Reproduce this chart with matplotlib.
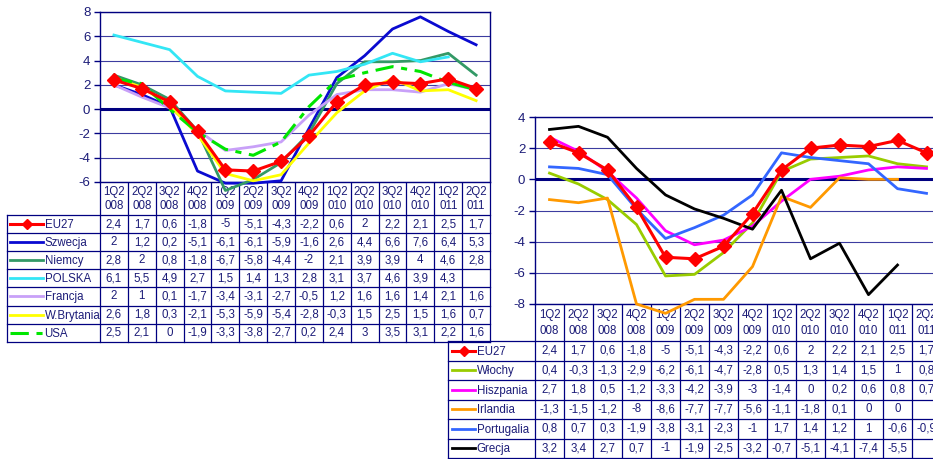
import numpy as np
import matplotlib.pyplot as plt

plt.rcParams['font.family'] = ['Liberation Sans', 'DejaVu Sans']
plt.rcParams['axes.unicode_minus'] = False

nan = np.nan

# quarters (header of both tables)
quarters = ['1Q2008', '2Q2008', '3Q2008', '4Q2008', '1Q2009', '2Q2009', '3Q2009',
            '4Q2009', '1Q2010', '2Q2010', '3Q2010', '4Q2010', '1Q2011', '2Q2011']

# left chart
eu27 = [2.4, 1.7, 0.6, -1.8, -5, -5.1, -4.3, -2.2, 0.6, 2, 2.2, 2.1, 2.5, 1.7]
szwecja = [2, 1.2, 0.2, -5.1, -6.1, -6.1, -5.9, -1.6, 2.6, 4.4, 6.6, 7.6, 6.4, 5.3]
niemcy = [2.8, 2, 0.8, -1.8, -6.7, -5.8, -4.4, -2, 2.1, 3.9, 3.9, 4, 4.6, 2.8]
polska = [6.1, 5.5, 4.9, 2.7, 1.5, 1.4, 1.3, 2.8, 3.1, 3.7, 4.6, 3.9, 4.3, nan]
francja = [2, 1, 0.1, -1.7, -3.4, -3.1, -2.7, -0.5, 1.2, 1.6, 1.6, 1.4, 2.1, 1.6]
wbrytania = [2.6, 1.8, 0.3, -2.1, -5.3, -5.9, -5.4, -2.8, -0.3, 1.5, 2.5, 1.5, 1.6, 0.7]
usa = [2.5, 2.1, 0, -1.9, -3.3, -3.8, -2.7, 0.2, 2.4, 3, 3.5, 3.1, 2.2, 1.6]

# right chart
wlochy = [0.4, -0.3, -1.3, -2.9, -6.2, -6.1, -4.7, -2.8, 0.5, 1.3, 1.4, 1.5, 1, 0.8]
hiszpania = [2.7, 1.8, 0.5, -1.2, -3.3, -4.2, -3.9, -3, -1.4, 0, 0.2, 0.6, 0.8, 0.7]
irlandia = [-1.3, -1.5, -1.2, -8, -8.6, -7.7, -7.7, -5.6, -1.1, -1.8, 0.1, 0, 0, nan]
portugalia = [0.8, 0.7, 0.3, -1.9, -3.8, -3.1, -2.3, -1, 1.7, 1.4, 1.2, 1, -0.6, -0.9]
grecja = [3.2, 3.4, 2.7, 0.7, -1, -1.9, -2.5, -3.2, -0.7, -5.1, -4.1, -7.4, -5.5, nan]

NAVY = '#000080'
GRID = '#3c3ca0'
TXT = '#1c1c78'

W, H = 933, 459
fig = plt.figure(figsize=(W / 100, H / 100), dpi=100)

# overlay in pixel coordinates for the data tables
ov = fig.add_axes([0, 0, 1, 1])
ov.set_xlim(0, W)
ov.set_ylim(H, 0)
ov.axis('off')


def fmt(v):
    if np.isnan(v):
        return ''
    return ('%g' % v).replace('.', ',')


def panel(ytop, ybot, x0, colw, lab_x, hdr_bot, row_h, ylim, series, key, fs=8.3):
    n = len(quarters)
    x1 = x0 + n * colw
    ax = fig.add_axes([x0 / W, 1 - ybot / H, (x1 - x0) / W, (ybot - ytop) / H])
    x = np.arange(n)
    for name, vals, kw in series:
        ax.plot(x, vals, clip_on=False, zorder=3 + (name == 'EU27'), **kw)
    ax.set_xlim(-0.5, n - 0.5)
    ax.set_ylim(*ylim)
    ax.set_yticks(np.arange(ylim[0], ylim[1] + 1, 2))
    ax.set_xticks([])
    for y in np.arange(ylim[0], ylim[1] + 1, 2):
        ax.axhline(y, color=GRID, lw=0.8, zorder=1)
    ax.axhline(0, color=NAVY, lw=2.2, zorder=2)
    for s in ax.spines.values():
        s.set_color(NAVY)
        s.set_linewidth(1.0)
    ax.tick_params(axis='y', colors=NAVY, labelcolor=TXT, labelsize=9.5,
                   length=4, width=1, pad=3)

    # table
    tb_bot = hdr_bot + row_h * len(series)
    for i in range(n + 1):
        xx = x0 + i * colw
        ov.plot([xx, xx], [ybot, tb_bot], color=NAVY, lw=0.9)
    ov.plot([lab_x, lab_x], [hdr_bot, tb_bot], color=NAVY, lw=0.9)
    for r in range(len(series) + 1):
        yy = hdr_bot + r * row_h
        ov.plot([lab_x, x1], [yy, yy], color=NAVY, lw=0.9)
    for i, q in enumerate(quarters):
        cx = x0 + (i + 0.5) * colw
        ov.text(cx, ybot + (hdr_bot - ybot) * 0.3, q[:3], ha='center', va='center',
                fontsize=fs, color=TXT)
        ov.text(cx, ybot + (hdr_bot - ybot) * 0.72, q[3:], ha='center', va='center',
                fontsize=fs, color=TXT)
    for r, (name, vals, kw) in enumerate(series):
        cy = hdr_bot + (r + 0.5) * row_h
        k0, k1 = lab_x + key[0], lab_x + key[1]
        kk = dict(kw)
        mk = kk.pop('marker', None)
        kk.pop('markersize', None)
        ov.plot([k0, k1], [cy, cy], **kk)
        if mk:
            ov.plot([(k0 + k1) / 2], [cy], marker=mk, markersize=5,
                    color=kw['color'], ls='none')
        ov.text(k1 + 1.5, cy + 1, name, ha='left', va='center', fontsize=fs, color=TXT)
        for i, v in enumerate(vals):
            ov.text(x0 + (i + 0.5) * colw, cy, fmt(v), ha='center', va='center',
                    fontsize=fs, color=TXT)
    return ax


eu_kw = dict(color='#ff0000', lw=2.2, marker='D', markersize=7)

left_series = [
    ('EU27', eu27, eu_kw),
    ('Szwecja', szwecja, dict(color='#0a0ad0', lw=2.0)),
    ('Niemcy', niemcy, dict(color='#339966', lw=2.0)),
    ('POLSKA', polska, dict(color='#33e6f5', lw=2.0)),
    ('Francja', francja, dict(color='#c8a0f8', lw=2.0)),
    ('W.Brytania', wbrytania, dict(color='#ffff00', lw=2.0)),
    ('USA', usa, dict(color='#00e600', lw=2.2, dashes=(6, 2.5, 2, 2.5))),
]

right_series = [
    ('EU27', eu27, eu_kw),
    ('Włochy', wlochy, dict(color='#99cc00', lw=2.0)),
    ('Hiszpania', hiszpania, dict(color='#ff00ff', lw=2.0)),
    ('Irlandia', irlandia, dict(color='#ff9900', lw=2.0)),
    ('Portugalia', portugalia, dict(color='#3366ff', lw=2.0)),
    ('Grecja', grecja, dict(color='#000000', lw=2.0)),
]

panel(12, 182, 100, 27.86, 7, 215, 18.1, (-6, 8), left_series, key=(3, 36))
panel(117, 304, 535, 29.0, 448, 341, 19.5, (-8, 4), right_series, key=(4, 27))

fig.savefig('out.png', dpi=100, facecolor='white')
